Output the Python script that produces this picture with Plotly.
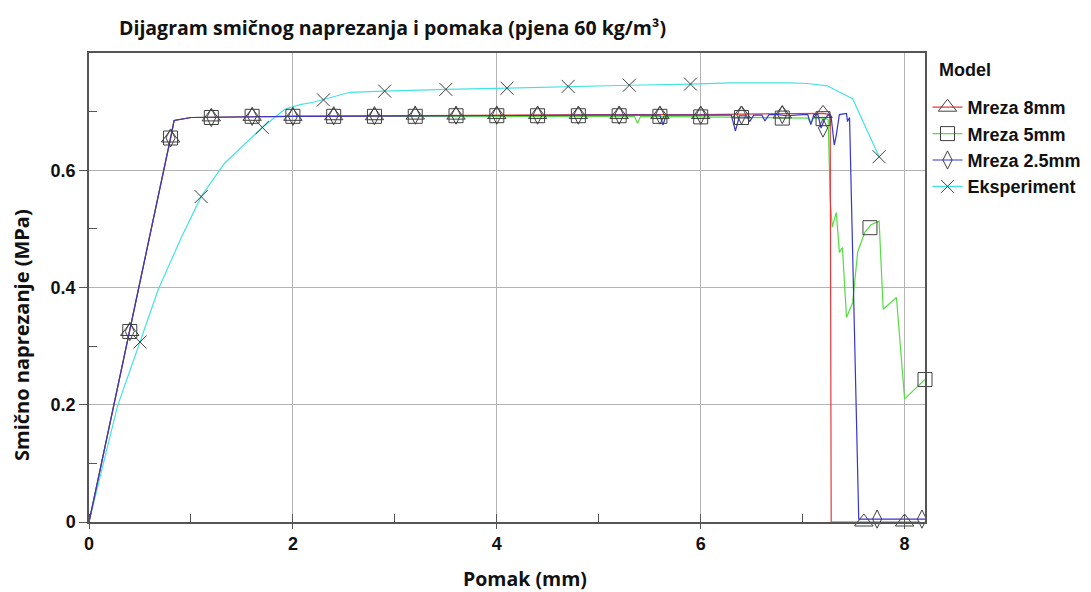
import plotly.graph_objects as go

# ---------------- data ----------------
red_x = [0, 0.4, 0.8, 0.835, 1.0, 2.0, 3.0, 4.0, 5.0, 6.0, 6.5, 7.0, 7.2, 7.27, 7.28, 8.15]
red_y = [0, 0.325, 0.655, 0.685, 0.690, 0.692, 0.693, 0.695, 0.695, 0.695, 0.696, 0.697, 0.697, 0.695, 0.0, 0.0]

green_x = [0, 0.4, 0.8, 0.835, 1.0, 2.0, 3.0, 4.0, 5.0, 5.35, 5.38, 5.41, 6.0, 6.5, 7.0, 7.05, 7.08, 7.11,
           7.22, 7.25, 7.27, 7.29, 7.33, 7.36, 7.39, 7.43, 7.49, 7.54, 7.61, 7.67, 7.75, 7.79, 7.92, 8.0, 8.2]
green_y = [0, 0.325, 0.655, 0.685, 0.690, 0.692, 0.692, 0.693, 0.693, 0.692, 0.680, 0.692, 0.691, 0.690, 0.689, 0.689, 0.680, 0.689,
           0.689, 0.686, 0.550, 0.503, 0.528, 0.460, 0.468, 0.349, 0.374, 0.461, 0.494, 0.507, 0.513, 0.363, 0.383, 0.210, 0.243]

blue_x = [0, 0.4, 0.8, 0.835, 1.0, 2.0, 3.0, 4.0, 5.0, 5.6, 5.63, 5.66, 6.0, 6.3, 6.34, 6.38, 6.45, 6.48, 6.52, 6.6,
          6.63, 6.67, 6.75, 6.85, 7.0, 7.05, 7.08, 7.11, 7.15, 7.18, 7.21, 7.25, 7.28, 7.31, 7.33, 7.36, 7.43, 7.44,
          7.46, 7.51, 7.55, 8.2]
blue_y = [0, 0.325, 0.655, 0.685, 0.690, 0.692, 0.693, 0.694, 0.694, 0.694, 0.677, 0.694, 0.694, 0.694, 0.667, 0.693, 0.693, 0.683, 0.694, 0.694,
          0.684, 0.695, 0.695, 0.693, 0.695, 0.695, 0.678, 0.695, 0.695, 0.672, 0.685, 0.695, 0.690, 0.643, 0.660, 0.695, 0.697, 0.683,
          0.690, 0.330, 0.005, 0.005]

exp_x = [0, 0.28, 0.5, 0.68, 0.91, 1.1, 1.33, 1.7, 1.92, 2.07, 2.2, 2.29, 2.56, 2.89, 3.18, 3.5, 4.1, 4.7, 5.3, 5.9,
         6.3, 6.87, 7.05, 7.24, 7.49, 7.75]
exp_y = [0, 0.198, 0.307, 0.397, 0.487, 0.555, 0.612, 0.673, 0.704, 0.712, 0.716, 0.720, 0.733, 0.735, 0.737, 0.738, 0.740, 0.743, 0.745, 0.747,
         0.749, 0.749, 0.748, 0.744, 0.722, 0.623]

# marker positions (sampled points of each curve)
tri_x = [0.4, 0.8, 1.2, 1.6, 2.0, 2.4, 2.8, 3.2, 3.6, 4.0, 4.4, 4.8, 5.2, 5.6, 6.0, 6.4, 6.8, 7.2, 7.6, 8.0]
tri_y = [0.325, 0.655, 0.691, 0.692, 0.692, 0.693, 0.693, 0.694, 0.694, 0.695, 0.695, 0.695, 0.695, 0.695, 0.695, 0.696, 0.696, 0.697, 0.0, 0.0]

sq_x = [0.4, 0.8, 1.2, 1.6, 2.0, 2.4, 2.8, 3.2, 3.6, 4.0, 4.4, 4.8, 5.2, 5.6, 6.0, 6.4, 6.8, 7.2, 7.66, 8.2]
sq_y = [0.325, 0.655, 0.690, 0.692, 0.692, 0.692, 0.692, 0.692, 0.693, 0.693, 0.693, 0.693, 0.693, 0.692, 0.691, 0.690, 0.689, 0.688, 0.502, 0.243]

dia_x = [0.4, 0.8, 1.2, 1.6, 2.0, 2.4, 2.8, 3.2, 3.6, 4.0, 4.4, 4.8, 5.2, 5.6, 6.0, 6.4, 6.8, 7.2, 7.73, 8.17]
dia_y = [0.325, 0.655, 0.690, 0.692, 0.692, 0.693, 0.693, 0.694, 0.694, 0.694, 0.694, 0.694, 0.694, 0.694, 0.694, 0.694, 0.695, 0.672, 0.005, 0.005]

xm_x = [0.5, 1.1, 1.7, 2.3, 2.9, 3.5, 4.1, 4.7, 5.3, 5.9, 7.75]
xm_y = [0.307, 0.555, 0.673, 0.720, 0.735, 0.738, 0.740, 0.743, 0.745, 0.747, 0.623]

names = ["Mreza 8mm", "Mreza 5mm", "Mreza 2.5mm", "Eksperiment"]
colors = ["#e8393a", "#55dd44", "#3535d0", "#44e3e3"]
symbols = ["triangle-up-open", "square-open", "diamond-tall-open", "x-thin-open"]
sizes = [16, 14, 13, 13]

x_ticks = [0, 2, 4, 6, 8]
y_ticks = [0, 0.2, 0.4, 0.6]

# ---------------- figure ----------------
fig = go.Figure()
lines = [(red_x, red_y), (green_x, green_y), (blue_x, blue_y), (exp_x, exp_y)]
marks = [(tri_x, tri_y), (sq_x, sq_y), (dia_x, dia_y), (xm_x, xm_y)]
MK = "#404040"

# draw lines: experiment first (underneath)
for i in [3, 1, 0, 2]:
    fig.add_trace(go.Scatter(x=lines[i][0], y=lines[i][1], mode="lines",
                             line=dict(color=colors[i], width=1.2),
                             showlegend=False, hoverinfo="skip"))
for i in range(4):
    fig.add_trace(go.Scatter(x=marks[i][0], y=marks[i][1], mode="markers",
                             marker=dict(symbol=symbols[i], size=sizes[i], color=MK,
                                         line=dict(color=MK, width=1)),
                             cliponaxis=False, showlegend=False, hoverinfo="skip"))
for i in range(4):
    fig.add_trace(go.Scatter(x=[None], y=[None], mode="lines+markers", name=names[i],
                             line=dict(color=colors[i], width=1.2),
                             marker=dict(symbol=symbols[i], size=sizes[i], color=MK,
                                         line=dict(color=MK, width=1))))

ARIAL = "Liberation Sans, Arial, sans-serif"
CAL = "Open Sans, Calibri, sans-serif"
tickfont = dict(family=ARIAL, size=18, color="#111", weight="bold")

W, H = 1083, 584  # page adds 8px body margin
fig.update_layout(
    width=W, height=H,
    paper_bgcolor="white", plot_bgcolor="white",
    margin=dict(l=81, r=166, t=45, b=70, autoexpand=False),
    title=dict(text="Dijagram smičnog naprezanja i pomaka (pjena 60 kg/m³)",
               x=111 / W, xref="container", xanchor="left",
               y=1 - 20 / H, yref="container", yanchor="middle",
               font=dict(family=CAL, size=19.5, color="#111", weight="bold")),
    legend=dict(x=1.003, xanchor="left", y=1.0 - 36 / 469, yanchor="top",
                font=dict(family=ARIAL, size=18, color="#111", weight="bold"),
                tracegroupgap=0, itemwidth=30, bgcolor="rgba(0,0,0,0)"),
    showlegend=True,
)

fig.update_xaxes(range=[0, 8.2], tickvals=x_ticks, ticks="outside", ticklen=5, tickcolor="#555",
                 showgrid=True, gridcolor="#b4b4b4", gridwidth=1, zeroline=False,
                 showline=True, linecolor="#555", linewidth=1.5, mirror=True,
                 tickfont=tickfont,
                 minor=dict(dtick=1, tick0=0, ticks="inside", ticklen=8, tickcolor="#555", showgrid=False))
fig.update_yaxes(range=[0, 0.8], tickvals=y_ticks, ticktext=["0", "0.2", "0.4", "0.6"],
                 ticks="outside", ticklen=8, tickcolor="#555",
                 showgrid=True, gridcolor="#b4b4b4", gridwidth=1, zeroline=False,
                 showline=True, linecolor="#555", linewidth=1.5, mirror=True,
                 tickfont=tickfont,
                 minor=dict(tickvals=[0.1, 0.3, 0.5, 0.7], ticks="inside", ticklen=8, tickcolor="#555", showgrid=False))

# legend heading
fig.add_annotation(text="Model", x=(937 - 89) / 836, y=(522 - 70) / 469, xref="paper", yref="paper",
                   showarrow=False, font=dict(family=ARIAL, size=18, color="#111", weight="bold"),
                   xanchor="left", yanchor="middle")
fig.add_annotation(text="Pomak (mm)", x=(525 - 89) / 836, y=-(578 - 522) / 469, xref="paper", yref="paper",
                   showarrow=False, font=dict(family=CAL, size=19.5, color="#111", weight="bold"),
                   xanchor="center", yanchor="middle")
fig.add_annotation(text="Smično naprezanje (MPa)", x=-(89 - 21) / 836, y=(522 - 335) / 469, xref="paper", yref="paper",
                   showarrow=False, textangle=-90,
                   font=dict(family=CAL, size=20, color="#111", weight="bold"),
                   xanchor="center", yanchor="middle")

fig.write_html("out.html")
